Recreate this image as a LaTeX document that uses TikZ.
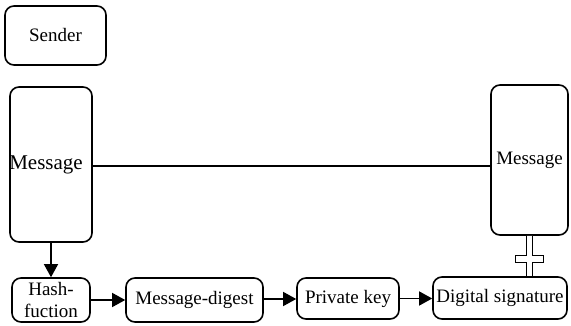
\documentclass[tikz,border=0pt]{standalone}
\usepackage{fontspec}
\newfontfamily\boxfont{Liberation Serif}
\usetikzlibrary{arrows.meta,calc}
\begin{document}
\begin{tikzpicture}[x=1pt,y=-1pt,
  box/.style={draw,line width=1.6pt,rounded corners=9pt,inner sep=0pt,
    font=\boxfont\fontsize{19}{21.5}\selectfont,align=center},
  link/.style={line width=1.3pt},
  flow/.style={link,-{Triangle[length=13pt,width=14pt]}}]
\useasboundingbox (0,0) rectangle (571,326);

% boxes
\node[box,minimum width=82pt,minimum height=155pt,
  font=\boxfont\fontsize{21}{23}\selectfont] (msgL) at (51,164.5) {\hspace*{-10pt}Message};
\node[box,minimum width=101pt,minimum height=59pt] (sender) at (55.5,35.5) {Sender};
\node[box,minimum width=77pt,minimum height=150pt] (msgR) at (529.5,160) {Message};
\node[box,minimum width=78pt,minimum height=44pt] (hash) at (51,300) {Hash-\\fuction};
\node[box,minimum width=137pt,minimum height=44pt] (digest) at (194.5,300) {Message-digest};
\node[box,minimum width=102pt,minimum height=41pt] (pkey) at (348,298.5) {Private key};
\node[box,minimum width=134pt,minimum height=42pt] (dsig) at (500,298) {Digital signature};

% message travels across
\draw[link] ($(msgL.east)+(0,1.5)$) -- ($(msgL.east -| msgR.west)+(0,1.5)$);

% signing chain
\draw[flow] (msgL.south) -- (hash.north);
\draw[flow] (hash.east) -- (hash.east -| digest.west);
\draw[flow] ($(digest.east)+(0,-1)$) -- ($(digest.east -| pkey.west)+(0,-1)$);
\draw[flow] (pkey.east) -- (pkey.east -| dsig.west);

% hollow cross joining the received message and the signature
\coordinate (ct) at (msgR.south);
\coordinate (cb) at (msgR.south |- dsig.north);
\draw[line width=1.2pt,fill=white]
  ($(ct)+(-3,0)$) -- ($(ct)+(-3,20)$) -- ($(ct)+(-14,20)$) -- ($(ct)+(-14,27)$)
  -- ($(ct)+(-3,27)$) -- ($(cb)+(-3,0)$) -- ($(cb)+(3,0)$) -- ($(ct)+(3,27)$)
  -- ($(ct)+(14,27)$) -- ($(ct)+(14,20)$) -- ($(ct)+(3,20)$) -- ($(ct)+(3,0)$);
\end{tikzpicture}
\end{document}
